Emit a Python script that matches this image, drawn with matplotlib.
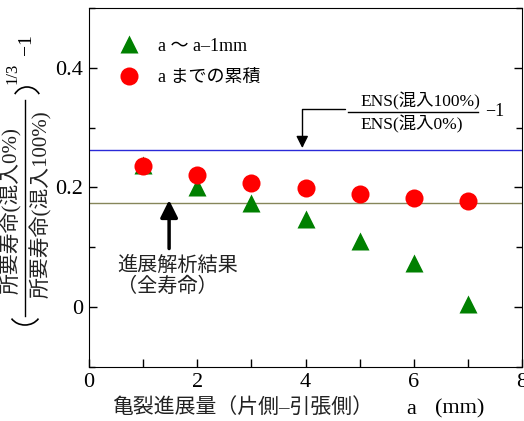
import matplotlib
matplotlib.use("Agg")
import matplotlib.pyplot as plt
from matplotlib.lines import Line2D
from matplotlib.patches import Arc
from matplotlib.ticker import MultipleLocator

plt.rcParams['font.family'] = ['Liberation Serif', 'Noto Sans CJK JP']

# data
a_mm = [1, 2, 3, 4, 5, 6, 7]
step_vals = [0.238, 0.201, 0.174, 0.147, 0.110, 0.074, 0.006]   # a ~ a-1mm
cum_vals = [0.236, 0.221, 0.208, 0.199, 0.189, 0.182, 0.177]    # a までの累積
ens_ratio = 0.262       # ENS(混入100%)/ENS(混入0%) - 1
growth_result = 0.174   # 進展解析結果（全寿命）

W, H = 524, 421
fig = plt.figure(figsize=(W / 100, H / 100), dpi=100)
ax = fig.add_axes([89 / W, 1 - 367 / H, 433 / W, 359 / H])


def px(x, y):
    return (x / W, 1 - y / H)


ax.axhline(ens_ratio, color='#2a2ad8', lw=1)
ax.axhline(growth_result, color='#86865a', lw=1)

ax.plot(a_mm, step_vals, '^', color='#008000', ms=13, mec='none',
        label='a ～ a–1mm', zorder=3)
ax.plot(a_mm, cum_vals, 'o', color='#ff0000', ms=13, mec='none',
        label='a までの累積', zorder=4)

ax.set_xlim(0, 8)
ax.set_ylim(-0.1, 0.5)
ax.set_xticks([0, 2, 4, 6, 8])
ax.set_yticks([0, 0.2, 0.4])
ax.set_yticklabels(['0', '0.2', '0.4'])
ax.xaxis.set_minor_locator(MultipleLocator(1))
ax.yaxis.set_minor_locator(MultipleLocator(0.1))
ax.tick_params(which='both', direction='in', right=True, top=False,
               labelsize=16, pad=4)
ax.tick_params(which='major', length=6, width=1)
ax.tick_params(which='minor', length=4.5, width=1)
ax.tick_params(axis='x', which='minor', length=6)

leg = ax.legend(loc='upper left', bbox_to_anchor=(0.035, 0.963), frameon=False,
                fontsize=13, handlelength=1.0, handletextpad=1.1,
                labelspacing=0.8, numpoints=1)

# top annotation: ENS fraction with bent arrow to the blue line
ax.annotate('', xy=(3.94, ens_ratio + 0.004), xytext=(4.73, 0.331),
            arrowprops=dict(arrowstyle='-|>', color='k', lw=1,
                            mutation_scale=18, shrinkA=0, shrinkB=0,
                            connectionstyle='angle,angleA=180,angleB=90,rad=0'))
fig.text(*px(420, 101), 'ENS(混入100%)', fontsize=12.5, ha='center', va='center')
fig.text(*px(412, 124), 'ENS(混入0%)', fontsize=12.5, ha='center', va='center')
fig.add_artist(Line2D([348 / W, 478 / W], [1 - 112 / H] * 2,
                      transform=fig.transFigure, color='k', lw=1))
fig.text(*px(495, 111), '−1', fontsize=13, ha='center', va='center')

# lower annotation
ax.annotate('', xy=(1.48, 0.179), xytext=(1.48, 0.098),
            arrowprops=dict(arrowstyle='-|>', color='k', lw=2.5,
                            mutation_scale=26, shrinkA=0, shrinkB=0))
fig.text(*px(117, 266), '進展解析結果', fontsize=14.5, ha='left', va='center',
         color='#222222')
fig.text(*px(117, 287), '（全寿命）', fontsize=14.5, ha='left', va='center',
         color='#222222')

# x label
fig.text(*px(112, 408), '亀裂進展量（片側–引張側）', fontsize=15, ha='left',
         va='center', color='#222222')
fig.text(*px(411, 409), 'a', fontsize=16, ha='center', va='center')
fig.text(*px(460, 409), '(mm)', fontsize=16, ha='center', va='center')

# y label: (numerator / denominator)^(1/3) - 1, rotated
fig.text(*px(11, 211), '所要寿命(混入0%)', fontsize=15, rotation=90,
         ha='center', va='center', color='#222222')
fig.text(*px(41, 204), '所要寿命(混入100%)', fontsize=15, rotation=90,
         ha='center', va='center', color='#222222')
fig.add_artist(Line2D([25 / W] * 2, [1 - 100 / H, 1 - 316 / H],
                      transform=fig.transFigure, color='k', lw=1))
fig.add_artist(Arc(px(25, 311), 32 / W, 28 / H, theta1=215, theta2=325,
                   transform=fig.transFigure, color='k', lw=1.2))
fig.add_artist(Arc(px(27, 101), 28 / W, 28 / H, theta1=35, theta2=145,
                   transform=fig.transFigure, color='k', lw=1.2))
fig.text(*px(12, 73), '1/3', fontsize=12, rotation=90, ha='center', va='center')
fig.text(*px(26, 45), '−1', fontsize=14, rotation=90, ha='center', va='center')

fig.savefig('out.png', dpi=100)
